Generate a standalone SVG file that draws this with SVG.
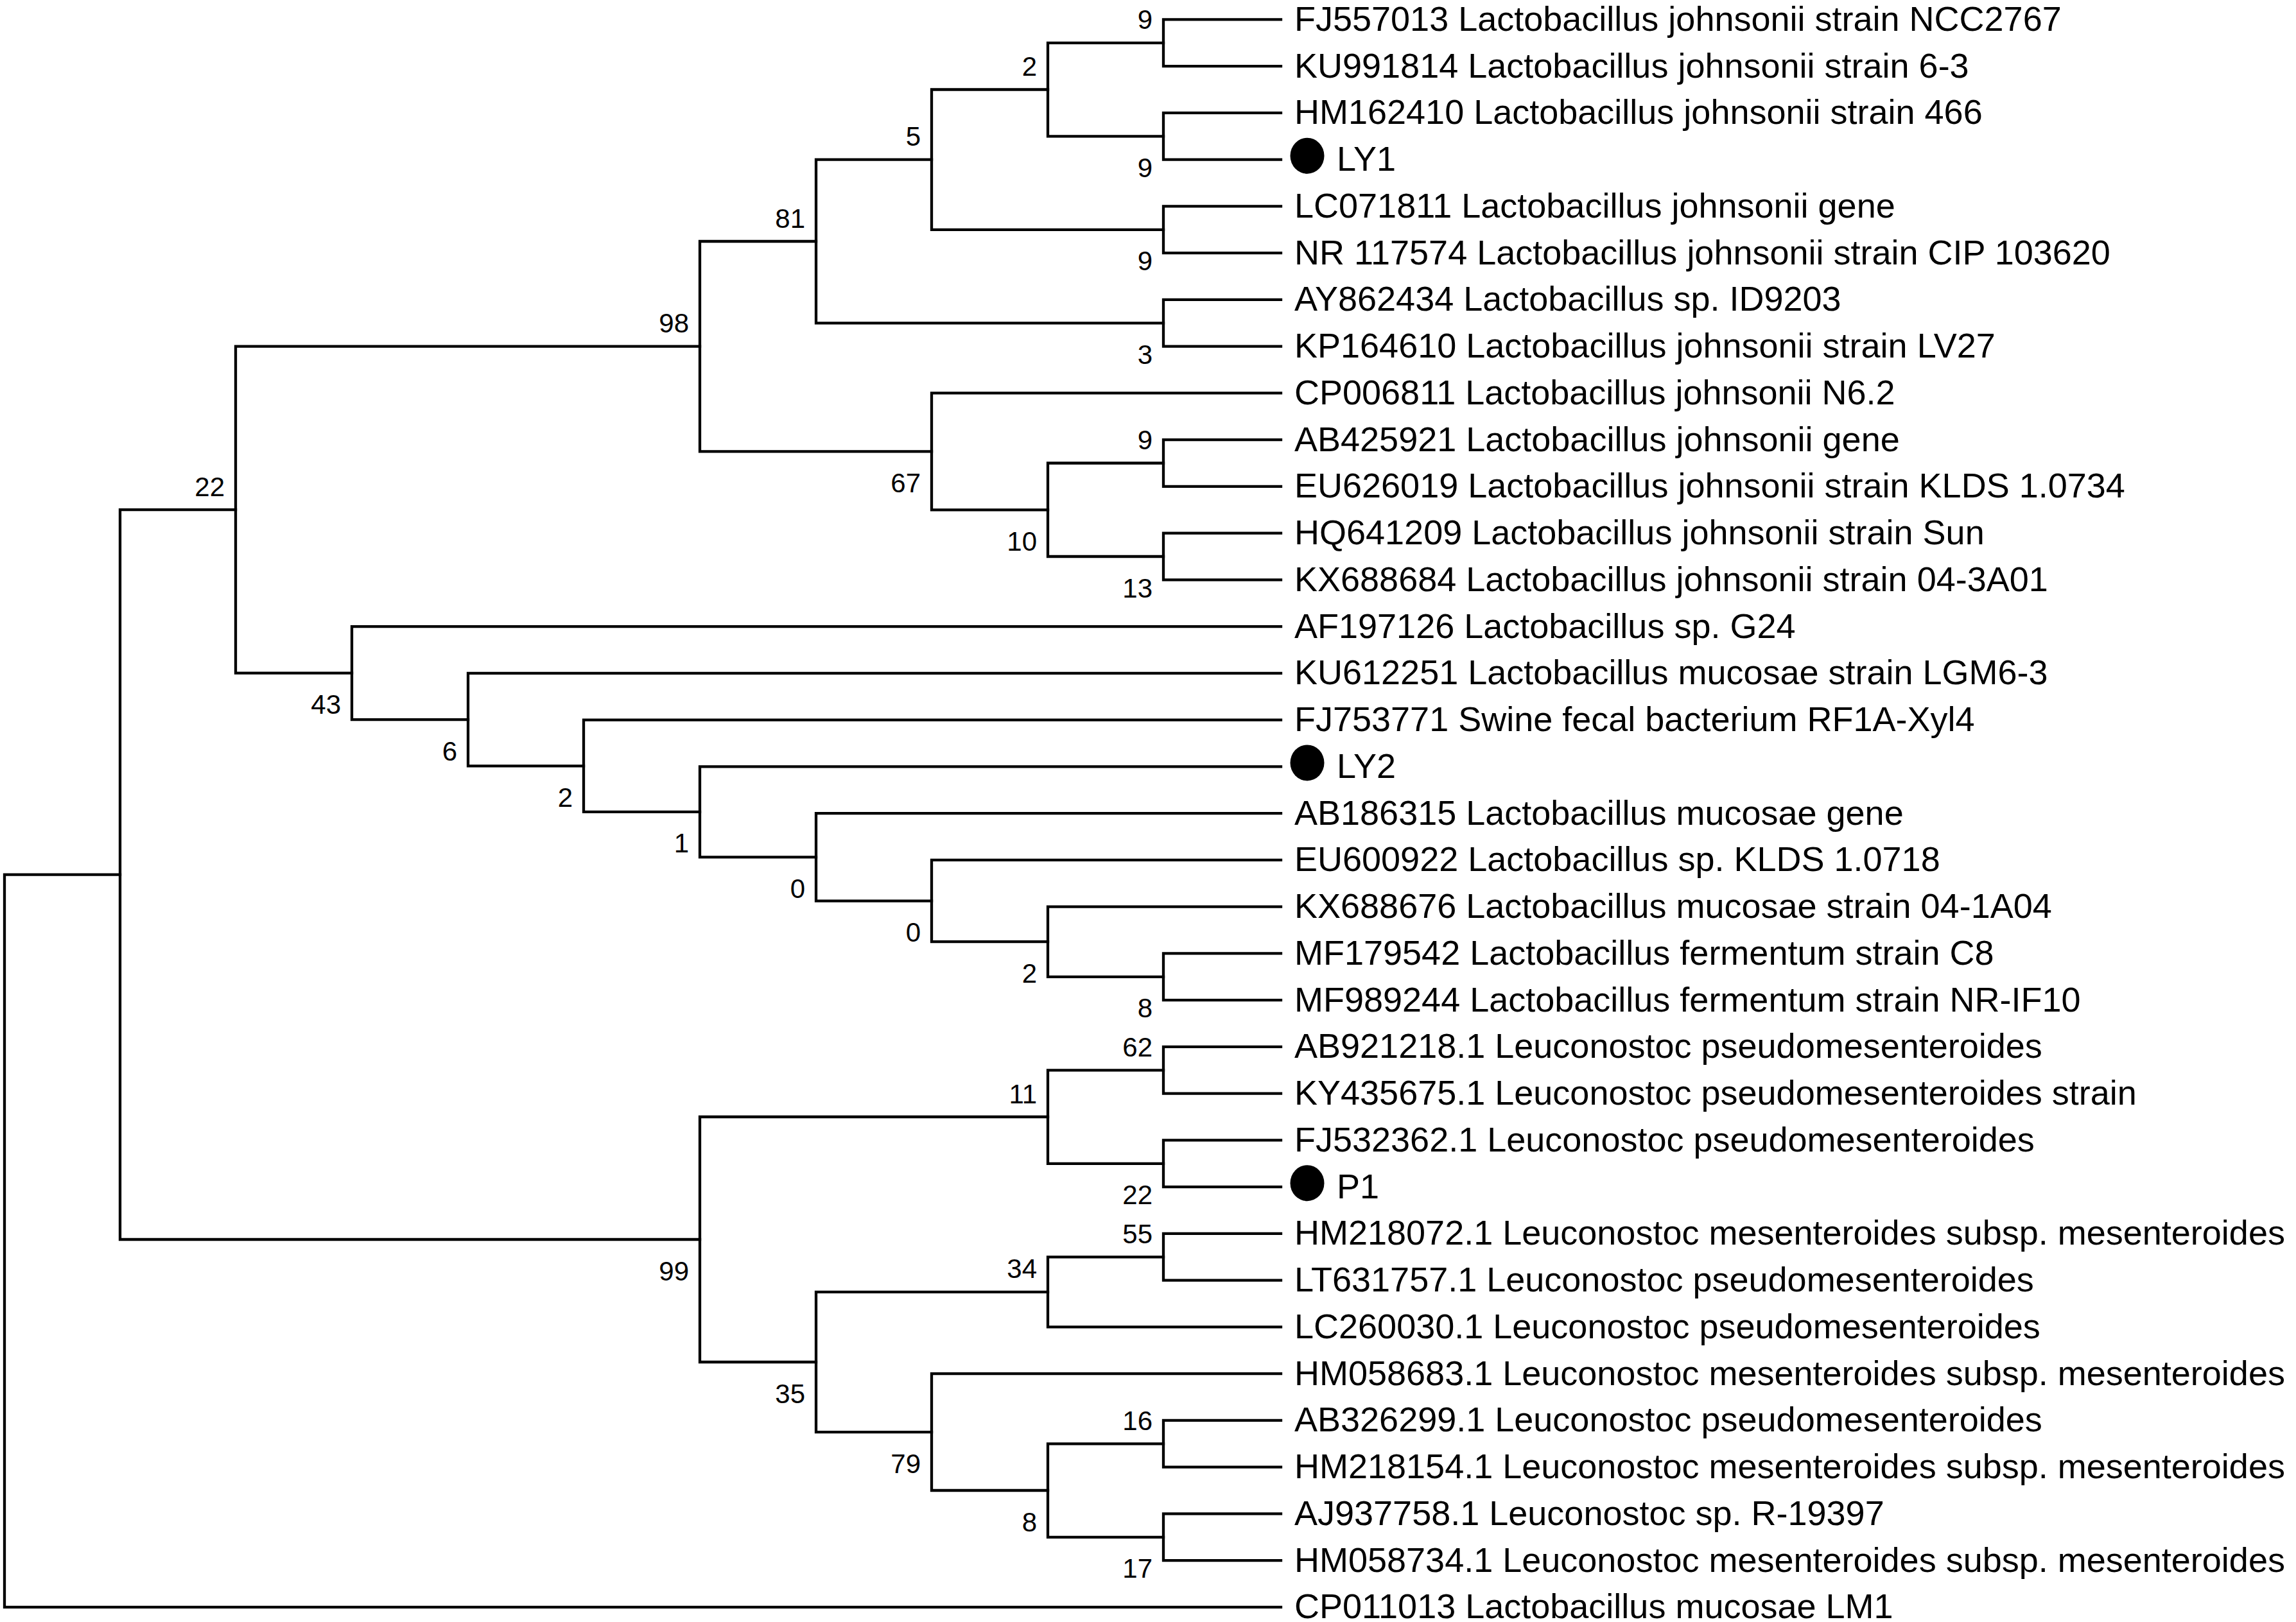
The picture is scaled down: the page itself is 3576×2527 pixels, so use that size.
<svg xmlns="http://www.w3.org/2000/svg" width="3576" height="2527" viewBox="0 0 3576 2527">
<style>
text{font-family:"Liberation Sans",Arial,sans-serif;fill:#000}
.lf{font-size:54px}
.bs{font-size:42px;text-anchor:end}
.br{fill:none;stroke:#000;stroke-width:4.3;stroke-linecap:square;stroke-linejoin:miter}
</style>
<rect width="3576" height="2527" fill="#fff"/>
<g id="connectors" class="br">
<path d="M1995 30.4H1812V103.2H1995"/>
<path d="M1995 175.9H1812V248.7H1995"/>
<path d="M1812 66.8H1632V212.3H1812"/>
<path d="M1995 321.4H1812V394.2H1995"/>
<path d="M1632 139.5H1451V357.8H1812"/>
<path d="M1995 466.9H1812V539.7H1995"/>
<path d="M1451 248.7H1271V503.3H1812"/>
<path d="M1995 685.2H1812V757.9H1995"/>
<path d="M1995 830.7H1812V903.4H1995"/>
<path d="M1812 721.5H1632V867H1812"/>
<path d="M1995 612.4H1451V794.3H1632"/>
<path d="M1271 376H1090V703.3H1451"/>
<path d="M1995 1485.4H1812V1558.2H1995"/>
<path d="M1995 1412.7H1632V1521.8H1812"/>
<path d="M1995 1339.9H1451V1467.2H1632"/>
<path d="M1995 1267.2H1271V1403.6H1451"/>
<path d="M1995 1194.4H1090V1335.4H1271"/>
<path d="M1995 1121.7H909V1264.9H1090"/>
<path d="M1995 1048.9H729V1193.3H909"/>
<path d="M1995 976.2H548V1121.1H729"/>
<path d="M1090 539.7H367V1048.6H548"/>
<path d="M1995 1630.9H1812V1703.7H1995"/>
<path d="M1995 1776.4H1812V1849.2H1995"/>
<path d="M1812 1667.3H1632V1812.8H1812"/>
<path d="M1995 1921.9H1812V1994.7H1995"/>
<path d="M1812 1958.3H1632V2067.4H1995"/>
<path d="M1995 2212.9H1812V2285.7H1995"/>
<path d="M1995 2358.4H1812V2431.2H1995"/>
<path d="M1812 2249.3H1632V2394.8H1812"/>
<path d="M1995 2140.2H1451V2322H1632"/>
<path d="M1632 2012.9H1271V2231.1H1451"/>
<path d="M1632 1740H1090V2122H1271"/>
<path d="M367 794.2H187V1931H1090"/>
<path d="M187 1362.6H7V2503.9H1995"/>
</g>
<g id="bootstrap">
<g id="n_c01"><text class="bs" x="1795" y="45.3">9</text></g>
<g id="n_c23"><text class="bs" x="1795" y="275.8">9</text></g>
<g id="n_2a"><text class="bs" x="1615" y="118">2</text></g>
<g id="n_c45"><text class="bs" x="1795" y="421.3">9</text></g>
<g id="n_5"><text class="bs" x="1434" y="227.2">5</text></g>
<g id="n_c67"><text class="bs" x="1795" y="566.8">3</text></g>
<g id="n_81"><text class="bs" x="1254" y="354.5">81</text></g>
<g id="n_c9_10"><text class="bs" x="1795" y="700">9</text></g>
<g id="n_c11_12"><text class="bs" x="1795" y="930.5">13</text></g>
<g id="n_10"><text class="bs" x="1615" y="857.8">10</text></g>
<g id="n_67"><text class="bs" x="1434" y="766.8">67</text></g>
<g id="n_98"><text class="bs" x="1073" y="518.2">98</text></g>
<g id="n_c20_21"><text class="bs" x="1795" y="1585.3">8</text></g>
<g id="n_2c"><text class="bs" x="1615" y="1530.7">2</text></g>
<g id="n_0b"><text class="bs" x="1434" y="1467.1">0</text></g>
<g id="n_0a"><text class="bs" x="1254" y="1398.9">0</text></g>
<g id="n_1"><text class="bs" x="1073" y="1328.4">1</text></g>
<g id="n_2b"><text class="bs" x="892" y="1256.8">2</text></g>
<g id="n_6"><text class="bs" x="712" y="1184.6">6</text></g>
<g id="n_43"><text class="bs" x="531" y="1112.1">43</text></g>
<g id="n_22"><text class="bs" x="350" y="772.7">22</text></g>
<g id="n_c22_23"><text class="bs" x="1795" y="1645.8">62</text></g>
<g id="n_c24_25"><text class="bs" x="1795" y="1876.3">22</text></g>
<g id="n_11"><text class="bs" x="1615" y="1718.5">11</text></g>
<g id="n_c26_27"><text class="bs" x="1795" y="1936.8">55</text></g>
<g id="n_34"><text class="bs" x="1615" y="1991.4">34</text></g>
<g id="n_c30_31"><text class="bs" x="1795" y="2227.8">16</text></g>
<g id="n_c32_33"><text class="bs" x="1795" y="2458.3">17</text></g>
<g id="n_8b"><text class="bs" x="1615" y="2385.5">8</text></g>
<g id="n_79"><text class="bs" x="1434" y="2294.6">79</text></g>
<g id="n_35"><text class="bs" x="1254" y="2185.5">35</text></g>
<g id="n_99"><text class="bs" x="1073" y="1994.5">99</text></g>
</g>
<g id="leaves">
<g id="leaf0"><text class="lf" x="2016" y="47.9">FJ557013 Lactobacillus johnsonii strain NCC2767</text></g>
<g id="leaf1"><text class="lf" x="2016" y="120.7">KU991814 Lactobacillus johnsonii strain 6-3</text></g>
<g id="leaf2"><text class="lf" x="2016" y="193.4">HM162410 Lactobacillus johnsonii strain 466</text></g>
<g id="leaf3"><ellipse cx="2036" cy="242.7" rx="26.5" ry="28"/><text class="lf" x="2082" y="266.2">LY1</text></g>
<g id="leaf4"><text class="lf" x="2016" y="338.9">LC071811 Lactobacillus johnsonii gene</text></g>
<g id="leaf5"><text class="lf" x="2016" y="411.7">NR 117574 Lactobacillus johnsonii strain CIP 103620</text></g>
<g id="leaf6"><text class="lf" x="2016" y="484.4">AY862434 Lactobacillus sp. ID9203</text></g>
<g id="leaf7"><text class="lf" x="2016" y="557.2">KP164610 Lactobacillus johnsonii strain LV27</text></g>
<g id="leaf8"><text class="lf" x="2016" y="629.9">CP006811 Lactobacillus johnsonii N6.2</text></g>
<g id="leaf9"><text class="lf" x="2016" y="702.7">AB425921 Lactobacillus johnsonii gene</text></g>
<g id="leaf10"><text class="lf" x="2016" y="775.4">EU626019 Lactobacillus johnsonii strain KLDS 1.0734</text></g>
<g id="leaf11"><text class="lf" x="2016" y="848.2">HQ641209 Lactobacillus johnsonii strain Sun</text></g>
<g id="leaf12"><text class="lf" x="2016" y="920.9">KX688684 Lactobacillus johnsonii strain 04-3A01</text></g>
<g id="leaf13"><text class="lf" x="2016" y="993.7">AF197126 Lactobacillus sp. G24</text></g>
<g id="leaf14"><text class="lf" x="2016" y="1066.4">KU612251 Lactobacillus mucosae strain LGM6-3</text></g>
<g id="leaf15"><text class="lf" x="2016" y="1139.2">FJ753771 Swine fecal bacterium RF1A-Xyl4</text></g>
<g id="leaf16"><ellipse cx="2036" cy="1188.4" rx="26.5" ry="28"/><text class="lf" x="2082" y="1211.9">LY2</text></g>
<g id="leaf17"><text class="lf" x="2016" y="1284.7">AB186315 Lactobacillus mucosae gene</text></g>
<g id="leaf18"><text class="lf" x="2016" y="1357.4">EU600922 Lactobacillus sp. KLDS 1.0718</text></g>
<g id="leaf19"><text class="lf" x="2016" y="1430.2">KX688676 Lactobacillus mucosae strain 04-1A04</text></g>
<g id="leaf20"><text class="lf" x="2016" y="1502.9">MF179542 Lactobacillus fermentum strain C8</text></g>
<g id="leaf21"><text class="lf" x="2016" y="1575.7">MF989244 Lactobacillus fermentum strain NR-IF10</text></g>
<g id="leaf22"><text class="lf" x="2016" y="1648.4">AB921218.1 Leuconostoc pseudomesenteroides</text></g>
<g id="leaf23"><text class="lf" x="2016" y="1721.2">KY435675.1 Leuconostoc pseudomesenteroides strain</text></g>
<g id="leaf24"><text class="lf" x="2016" y="1793.9">FJ532362.1 Leuconostoc pseudomesenteroides</text></g>
<g id="leaf25"><ellipse cx="2036" cy="1843.2" rx="26.5" ry="28"/><text class="lf" x="2082" y="1866.7">P1</text></g>
<g id="leaf26"><text class="lf" x="2016" y="1939.4">HM218072.1 Leuconostoc mesenteroides subsp. mesenteroides</text></g>
<g id="leaf27"><text class="lf" x="2016" y="2012.2">LT631757.1 Leuconostoc pseudomesenteroides</text></g>
<g id="leaf28"><text class="lf" x="2016" y="2084.9">LC260030.1 Leuconostoc pseudomesenteroides</text></g>
<g id="leaf29"><text class="lf" x="2016" y="2157.7">HM058683.1 Leuconostoc mesenteroides subsp. mesenteroides</text></g>
<g id="leaf30"><text class="lf" x="2016" y="2230.4">AB326299.1 Leuconostoc pseudomesenteroides</text></g>
<g id="leaf31"><text class="lf" x="2016" y="2303.2">HM218154.1 Leuconostoc mesenteroides subsp. mesenteroides</text></g>
<g id="leaf32"><text class="lf" x="2016" y="2375.9">AJ937758.1 Leuconostoc sp. R-19397</text></g>
<g id="leaf33"><text class="lf" x="2016" y="2448.7">HM058734.1 Leuconostoc mesenteroides subsp. mesenteroides</text></g>
<g id="leaf34"><text class="lf" x="2016" y="2521.4">CP011013 Lactobacillus mucosae LM1</text></g>
</g>
</svg>
